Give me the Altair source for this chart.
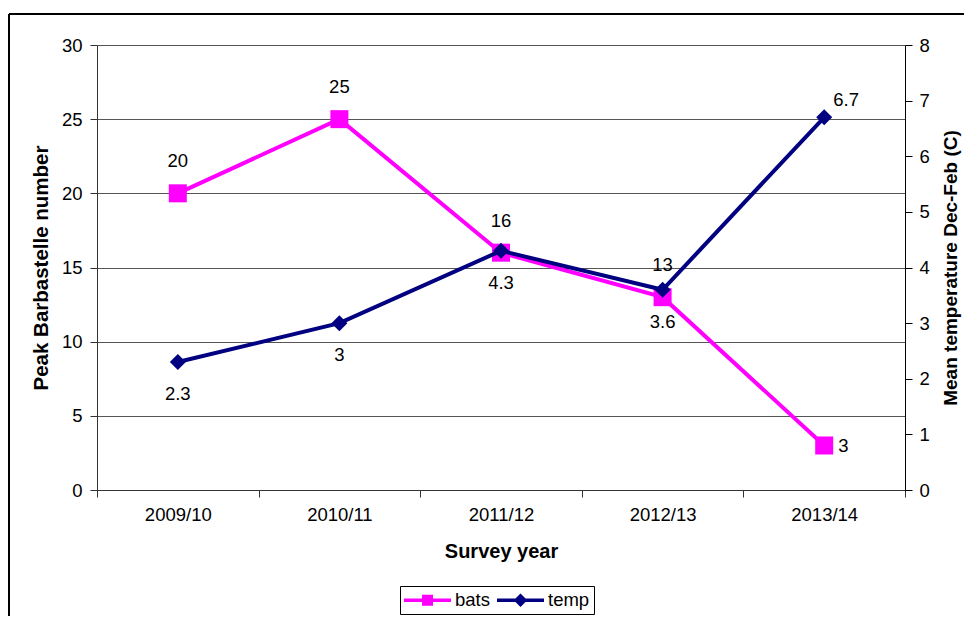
import altair as alt
import pandas as pd

# ---- data ----
years = ["2009/10", "2010/11", "2011/12", "2012/13", "2013/14"]
bats = [20, 25, 16, 13, 3]
temp = [2.3, 3, 4.3, 3.6, 6.7]
series_names = ["bats", "temp"]
series_colors = ["#FF00FF", "#000080"]
left_ticks = [0, 5, 10, 15, 20, 25, 30]
right_ticks = [0, 1, 2, 3, 4, 5, 6, 7, 8]

df = pd.DataFrame({"year": years, "bats": bats, "temp": temp})
legend_df = pd.DataFrame({"series": series_names})
last_year = years[-1]

W, H = 808, 445
PAD = {"left": 89, "top": 37, "right": 59, "bottom": 126}
FONT = "Liberation Sans"
LBL = 18.5
TTL = 20
AXC = "#333333"


def x_enc():
    return alt.X(
        "year:N",
        sort=years,
        scale=alt.Scale(type="band", paddingInner=0, paddingOuter=0),
        axis=alt.Axis(
            title="Survey year", labelAngle=0, tickBand="extent", tickSize=7,
            labelPadding=8, titlePadding=18, domainColor=AXC, tickColor=AXC,
            grid=False, labelFontSize=LBL, titleFontSize=TTL,
            titleFontWeight="bold", labelColor="black", titleColor="black",
        ),
    )


y_left = alt.Y(
    "bats:Q",
    scale=alt.Scale(domain=[0, 30], nice=False),
    axis=alt.Axis(
        title="Peak Barbastelle number", values=left_ticks, tickSize=7,
        labelPadding=8, titlePadding=10, grid=True, gridColor="#555555",
        domainColor=AXC, tickColor=AXC, labelFontSize=LBL, titleFontSize=20.5,
        titleFontWeight="bold", labelColor="black", titleColor="black",
    ),
)

y_right = alt.Y(
    "temp:Q",
    scale=alt.Scale(domain=[0, 8], nice=False),
    axis=alt.Axis(
        orient="right", title="Mean temperature Dec-Feb (C)", values=right_ticks,
        tickSize=7, labelPadding=7, titlePadding=12, grid=False,
        domainColor="black", tickColor="black", labelFontSize=LBL,
        titleFontSize=19, titleFontWeight="bold", titleAngle=270,
        titleBaseline="top", labelColor="black", titleColor="black",
    ),
)

base = alt.Chart(df)

bats_line = base.mark_line(color=series_colors[0], strokeWidth=4).encode(x=x_enc(), y=y_left)
bats_pts = base.mark_point(filled=True, shape="square", size=324, opacity=1,
                           color=series_colors[0]).encode(x=x_enc(), y=y_left)
bats_txt = base.mark_text(dy=-32, fontSize=LBL, color="black").encode(
    x=x_enc(), y=y_left, text=alt.Text("bats:Q", format="~g")
).transform_filter(alt.datum.year != last_year)
bats_txt_last = base.mark_text(dx=14, align="left", fontSize=LBL, color="black").encode(
    x=x_enc(), y=y_left, text=alt.Text("bats:Q", format="~g")
).transform_filter(alt.datum.year == last_year)

legend_paths = [
    "M-1,-0.18H3.7V0.18H-1Z M0.8,-0.55H1.9V0.55H0.8Z",
    "M-1,-0.18H3.7V0.18H-1Z M1.35,-0.68L2.03,0L1.35,0.68L0.67,0Z",
]
leg = alt.Legend(
    title=None, orient="none", legendX=303, legendY=541, direction="horizontal",
    strokeColor="black", padding=4, labelFontSize=LBL, labelFont=FONT,
    labelColor="black", labelOffset=31, columnPadding=7, symbolSize=400,
    symbolStrokeWidth=0,
)
legend_layer = alt.Chart(legend_df).mark_point(filled=True, opacity=1, size=400).encode(
    color=alt.Color("series:N", scale=alt.Scale(domain=series_names, range=series_colors), legend=leg),
    shape=alt.Shape("series:N", scale=alt.Scale(domain=series_names, range=legend_paths), legend=leg),
).transform_filter("false")

one = alt.Data(values=[{"k": 1}])
frame_top = alt.Chart(one).mark_rule(color="black", strokeWidth=2).encode(
    x=alt.value(-88), x2=alt.value(870), y=alt.value(-31))
frame_left = alt.Chart(one).mark_rule(color="black", strokeWidth=2).encode(
    x=alt.value(-88), y=alt.value(-31), y2=alt.value(575))

left = alt.layer(frame_top, frame_left, bats_line, bats_pts, bats_txt, bats_txt_last, legend_layer)

temp_line = base.mark_line(color=series_colors[1], strokeWidth=4).encode(x=x_enc(), y=y_right)
temp_pts = base.mark_point(filled=True, shape="diamond", size=256, opacity=1,
                           color=series_colors[1]).encode(x=x_enc(), y=y_right)
temp_txt = base.mark_text(dy=32, fontSize=LBL, color="black").encode(
    x=x_enc(), y=y_right, text=alt.Text("temp:Q", format="~g")
).transform_filter(alt.datum.year != last_year)
temp_txt_last = base.mark_text(dx=9, dy=-17, align="left", fontSize=LBL, color="black").encode(
    x=x_enc(), y=y_right, text=alt.Text("temp:Q", format="~g")
).transform_filter(alt.datum.year == last_year)

right = alt.layer(temp_line, temp_pts, temp_txt, temp_txt_last)

chart = (
    alt.layer(left, right)
    .resolve_scale(y="independent")
    .properties(width=W, height=H, padding=PAD, autosize="none", background="white")
    .configure(font=FONT)
    .configure_view(stroke="transparent")
)

chart.save("out.html", embed_options={"renderer": "svg", "actions": False})
